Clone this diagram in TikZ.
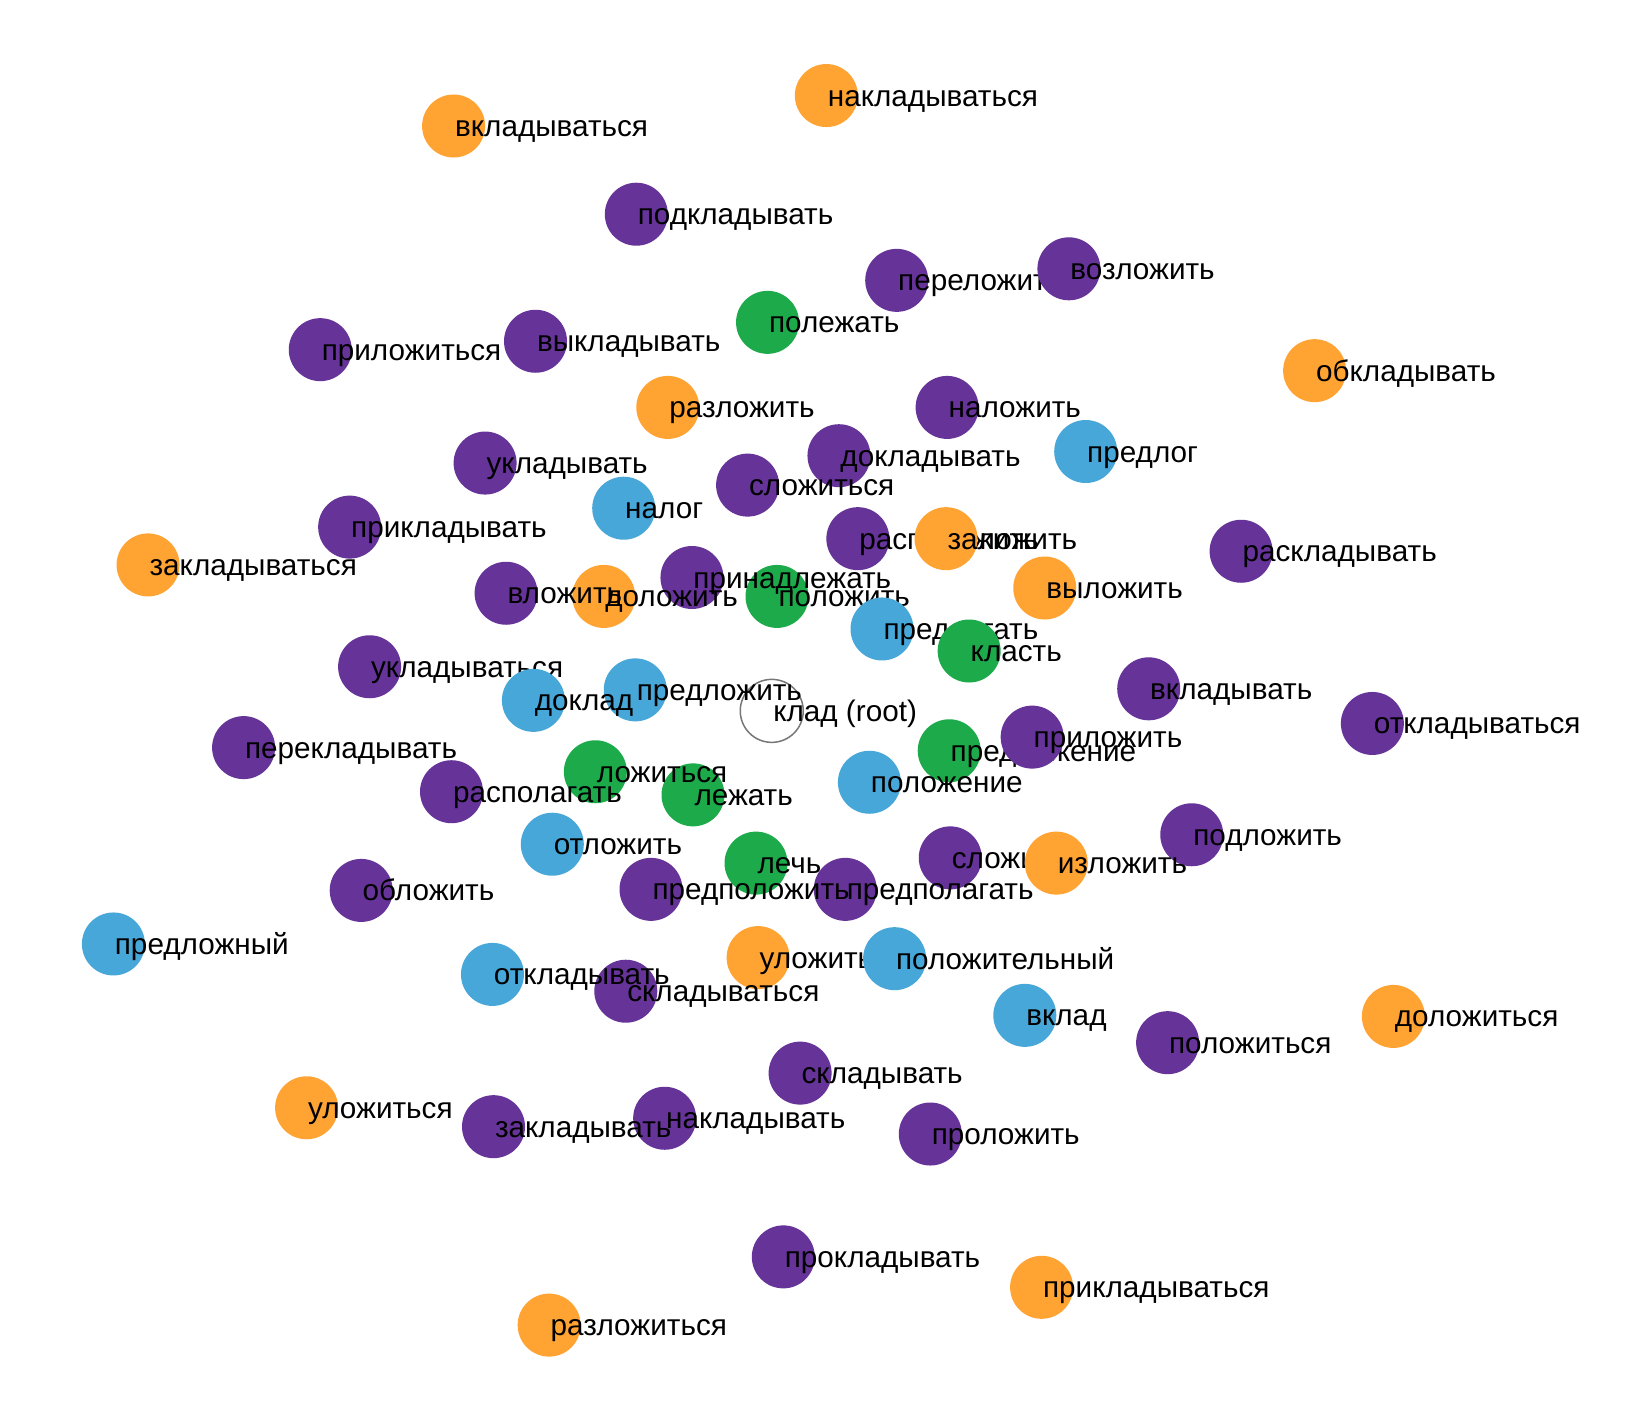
\documentclass[tikz,border=0pt]{standalone}
\usepackage{fontspec}
\setmainfont{Liberation Sans}
\definecolor{cpur}{HTML}{663399}
\definecolor{cgrn}{HTML}{1DAA4A}
\definecolor{corg}{HTML}{FFA333}
\definecolor{cblu}{HTML}{46A7D8}
\definecolor{cgry}{HTML}{777777}
\tikzset{
  dot/.style={circle,minimum size=63pt,inner sep=0pt,draw=none},
  pur/.style={dot,fill=cpur},
  grn/.style={dot,fill=cgrn},
  org/.style={dot,fill=corg},
  blu/.style={dot,fill=cblu},
  rootdot/.style={dot,fill=white,draw=cgry,line width=1.5pt},
  lbl/.style={anchor=base west,inner sep=0pt,outer sep=0pt,text=black,font=\fontsize{29.7}{35}\selectfont}
}
\newcommand\kn[5]{%
  \node[#4] (c#1) at ({#2*1.05},{#3*1.05}) {};
  \node[lbl] (t#1) at ([xshift=1.5pt,yshift=-10.5pt]c#1.center) {#5};
}
\begin{document}
\begin{tikzpicture}[x=1pt,y=-1pt]
\fill[white] (0,0) rectangle (1648,1414);
\useasboundingbox (0,0) rectangle (1648,1414);
\kn{root}{735}{677}{rootdot}{клад (root)}
\kn{a1}{787}{91}{org}{накладываться}
\kn{a2}{432}{120}{org}{вкладываться}
\kn{a3}{606}{204}{pur}{подкладывать}
\kn{a4}{854}{267}{pur}{переложить}
\kn{a5}{1018}{256}{pur}{возложить}
\kn{a6}{731}{307}{grn}{полежать}
\kn{a7}{305}{333}{pur}{приложиться}
\kn{a8}{510}{325}{pur}{выкладывать}
\kn{a9}{1252}{353}{org}{обкладывать}
\kn{a10}{636}{388}{org}{разложить}
\kn{a11}{902}{388}{pur}{наложить}
\kn{a12}{799}{434}{pur}{докладывать}
\kn{a13}{1034}{430}{blu}{предлог}
\kn{a14}{462}{441}{pur}{укладывать}
\kn{a15}{712}{462}{pur}{сложиться}
\kn{a16}{594}{484}{blu}{налог}
\kn{a17}{333}{502}{pur}{прикладывать}
\kn{a18}{817}{513}{pur}{расположить}
\kn{a19}{901}{513}{org}{заложить}
\kn{a20}{1182}{525}{pur}{раскладывать}
\kn{a21}{141}{538}{org}{закладываться}
\kn{a25}{740}{568}{grn}{положить}
\kn{a24}{659}{550}{pur}{принадлежать}
\kn{a23}{575}{568}{org}{доложить}
\kn{a22}{482}{565}{pur}{вложить}
\kn{a26}{995}{560}{org}{выложить}
\kn{a27}{840}{599}{blu}{предлагать}
\kn{a28}{923}{620}{grn}{класть}
\kn{a29}{352}{635}{pur}{укладываться}
\kn{a30}{1094}{656}{pur}{вкладывать}
\kn{a31}{605}{657}{blu}{предложить}
\kn{a32}{508}{667}{blu}{доклад}
\kn{a34}{1307}{689}{pur}{откладываться}
\kn{a35}{232}{712}{pur}{перекладывать}
\kn{a36}{904}{715}{grn}{предложение}
\kn{a37}{983}{702}{pur}{приложить}
\kn{a40}{660}{757}{grn}{лежать}
\kn{a38}{567}{735}{grn}{ложиться}
\kn{a39}{430}{754}{pur}{располагать}
\kn{a41}{828}{745}{blu}{положение}
\kn{a42}{526}{804}{blu}{отложить}
\kn{a43}{1135}{795}{pur}{подложить}
\kn{a44}{344}{848}{pur}{обложить}
\kn{a46}{905}{817}{pur}{сложить}
\kn{a47}{1006}{822}{org}{изложить}
\kn{a49}{805}{847}{pur}{предполагать}
\kn{a45}{720}{822}{grn}{лечь}
\kn{a48}{620}{847}{pur}{предположить}
\kn{a50}{108}{899}{blu}{предложный}
\kn{a51}{722}{912}{org}{уложить}
\kn{a52}{852}{913}{blu}{положительный}
\kn{a54}{596}{944}{pur}{складываться}
\kn{a53}{469}{928}{blu}{откладывать}
\kn{a55}{976}{967}{blu}{вклад}
\kn{a56}{1112}{993}{pur}{положиться}
\kn{a57}{1327}{968}{org}{доложиться}
\kn{a58}{762}{1022}{pur}{складывать}
\kn{a59}{292}{1055}{org}{уложиться}
\kn{a61}{633}{1065}{pur}{накладывать}
\kn{a60}{470}{1073}{pur}{закладывать}
\kn{a62}{886}{1080}{pur}{проложить}
\kn{a63}{746}{1197}{pur}{прокладывать}
\kn{a64}{992}{1226}{org}{прикладываться}
\kn{a65}{523}{1262}{org}{разложиться}
\end{tikzpicture}
\end{document}
